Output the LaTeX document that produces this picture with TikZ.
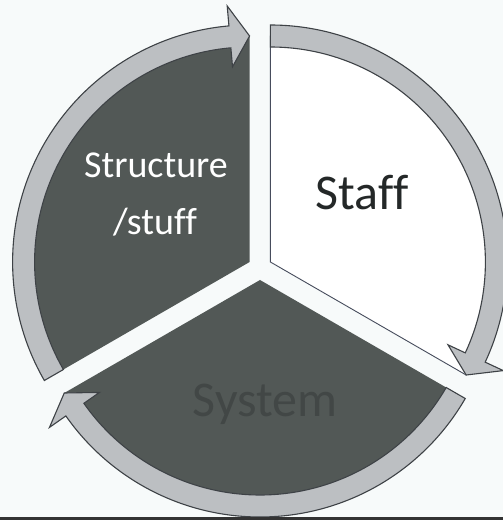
\documentclass[tikz,border=0pt]{standalone}
\usepackage{fontspec}
\setmainfont[Ligatures=NoCommon]{Carlito}
\definecolor{sectordark}{RGB}{82,88,86}
\definecolor{bandfill}{RGB}{188,191,194}
\definecolor{bandline}{RGB}{62,66,70}
\definecolor{staffline}{RGB}{70,76,92}
\definecolor{systemtext}{RGB}{66,71,70}
\definecolor{stafftext}{RGB}{36,40,40}
\definecolor{paper}{RGB}{247,250,250}
\tikzset{
  band/.style={fill=bandfill, draw=bandline, line width=1.1pt, line join=miter},
  darksector/.style={fill=sectordark},
  lightsector/.style={fill=white, draw=staffline, line width=0.9pt},
  bigtext/.style={font=\fontsize{50}{60}\selectfont, inner sep=0pt},
  midtext/.style={font=\fontsize{38}{46}\selectfont, inner sep=0pt, text=white},
}
\newcommand{\bandarrow}[2]{% #1 tail angle, #2 tip angle (inside a shifted scope)
  \pgfmathsetmacro{\bk}{#2+5}%
  \filldraw[band] (#1:237pt) arc[start angle=#1, end angle=\bk, radius=237pt]
    -- (\bk:257pt) -- (#2:226pt) -- (\bk:196pt) -- (\bk:215pt)
    arc[start angle=\bk, end angle=#1, radius=215pt] -- cycle;}
\begin{document}
\begin{tikzpicture}[x=1pt,y=1pt]
\useasboundingbox (0,0) rectangle (503,520);
\fill[paper] (0,0) rectangle (503,520);
% top-left sector: Structure/stuff
\begin{scope}[shift={(249.6,258)}]
  \fill[darksector] (0,0) -- (210:226pt) arc[start angle=210, end angle=90, radius=226pt] -- cycle;
  \bandarrow{210}{90}
\end{scope}
% right sector: Staff
\begin{scope}[shift={(270.4,258)}]
  \filldraw[lightsector] (0,0) -- (90:226pt) arc[start angle=90, end angle=-30, radius=226pt] -- cycle;
  \bandarrow{90}{-30}
\end{scope}
% bottom sector: System
\begin{scope}[shift={(260,240)}]
  \fill[darksector] (0,0) -- (-30:226pt) arc[start angle=-30, end angle=-150, radius=226pt] -- cycle;
  \bandarrow{-30}{-150}
\end{scope}
% texts
\node[midtext, anchor=base] (structure) at (156,342) {Structure};
\node[midtext, anchor=base] (stuff) at (155,285) {/stuff};
\node[bigtext, anchor=base, text=stafftext] (staff) at (362,310) {Staff};
\node[bigtext, anchor=base, text=systemtext] (system) at (265,103) {System};
% dark scan edge at the bottom
\fill[black!80] (0,0) rectangle (503,3);
\end{tikzpicture}
\end{document}
